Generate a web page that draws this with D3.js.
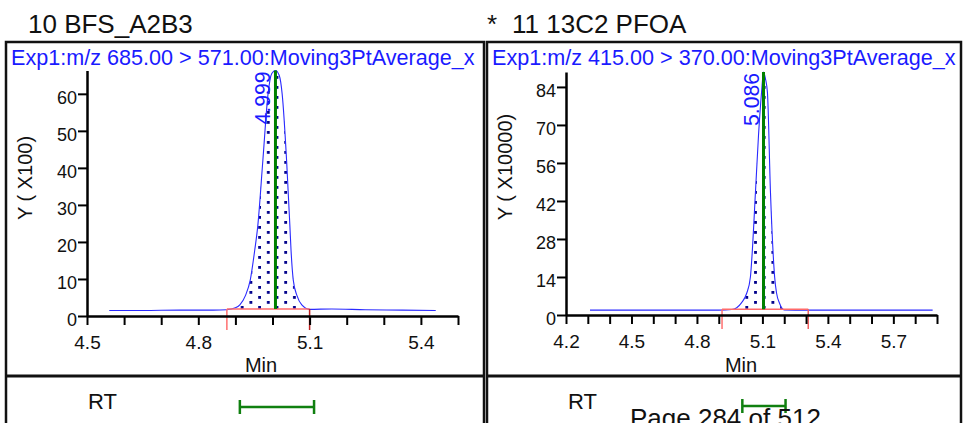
<!DOCTYPE html>
<html>
<head>
<meta charset="utf-8">
<script src="https://cdn.jsdelivr.net/npm/d3@7"></script>
<style>
body { margin: 0; background: #fff; }
text { font-family: "Liberation Sans", Arial, sans-serif; }
</style>
</head>
<body>
<div id="chart"></div>
<script>
// Data
const left_title = '10 BFS_A2B3';
const left_header = 'Exp1:m/z 685.00 > 571.00:Moving3PtAverage_x';
const left_y_title = 'Y ( X100)';
const left_times = [4.56, 4.65, 4.75, 4.84, 4.877, 4.90, 4.912, 4.927, 4.940, 4.952, 4.960, 4.974, 4.988, 4.998,
    5.008, 5.018, 5.026, 5.038, 5.047, 5.050, 5.056, 5.066, 5.079, 5.10, 5.16, 5.25, 5.35, 5.44];
const left_values = [1.5, 1.5, 1.6, 1.6, 1.7, 2.2, 3.0, 5.5, 9.7, 17.7, 24, 42, 60, 65.5,
    66.3, 65, 60, 42, 24, 17.7, 9.7, 5.5, 3.0, 1.8, 1.9, 1.7, 1.6, 1.5];
const left_peak = { time: 5.008, label: '4.999' };
const left_integration = [4.877, 5.10, 1.9];   // start, end, baseline
const left_rt_window = [4.912, 5.112];
const left_x_ticks = [4.5, 4.6, 4.7, 4.8, 4.9, 5.0, 5.1, 5.2, 5.3, 5.4, 5.5];
const left_x_labels = ['4.5', '4.8', '5.1', '5.4'];
const left_y_ticks = [0, 10, 20, 30, 40, 50, 60];

const right_title = '11 13C2 PFOA';
const right_header = 'Exp1:m/z 415.00 > 370.00:Moving3PtAverage_x';
const right_y_title = 'Y ( X10000)';
const right_times = [4.31, 4.50, 4.70, 4.90, 4.96, 5.003, 5.028, 5.045, 5.052, 5.068, 5.082, 5.096, 5.105,
    5.114, 5.123, 5.137, 5.150, 5.156, 5.165, 5.178, 5.20, 5.30, 5.50, 5.70, 5.88];
const right_values = [1.8, 1.8, 1.8, 1.8, 2.0, 4.4, 8, 14, 21.4, 45, 66, 82, 89.5,
    87, 82, 45, 21.4, 14, 8, 4.4, 1.9, 1.8, 1.8, 1.8, 1.8];
const right_peak = { time: 5.105, label: '5.086' };
const right_integration = [4.915, 5.31, 2.1];
const right_rt_window = [5.008, 5.206];
const right_x_ticks = [4.2, 4.3, 4.4, 4.5, 4.6, 4.7, 4.8, 4.9, 5.0, 5.1, 5.2, 5.3, 5.4, 5.5, 5.6, 5.7, 5.8, 5.9];
const right_x_labels = ['4.2', '4.5', '4.8', '5.1', '5.4', '5.7'];
const right_y_ticks = [0, 14, 28, 42, 56, 70, 84];

const page_label = 'Page 284 of 512';

const width = 965;
const height = 423;

const svg = d3.select('#chart')
    .append('svg')
    .attr('width', width)
    .attr('height', height);

// Dotted fill for the integrated peak
const defs = svg.append('defs');
const pattern = defs.append('pattern')
    .attr('id', 'dots')
    .attr('patternUnits', 'userSpaceOnUse')
    .attr('width', 17.4)
    .attr('height', 10);
pattern.append('rect').attr('x', 5.9).attr('y', 1).attr('width', 2.8).attr('height', 2.8).attr('fill', '#00008b');
pattern.append('rect').attr('x', 14.6).attr('y', 6).attr('width', 2.8).attr('height', 2.8).attr('fill', '#00008b');

const panels = [
    {
        id: 'l', frame: [6, 42, 484], title: left_title, titleX: 28, star: false,
        header: left_header, yTitle: left_y_title, yTitleX: 32, yTitleY: 178,
        times: left_times, values: left_values, peak: left_peak, integration: left_integration,
        rt: left_rt_window, xTicks: left_x_ticks, xLabels: left_x_labels, yTicks: left_y_ticks,
        plot: [87, 458, 70.5, 316], endColor: '#c02020', minX: 261
    },
    {
        id: 'r', frame: [487, 42, 961], title: right_title, titleX: 512, star: true,
        header: right_header, yTitle: right_y_title, yTitleX: 512, yTitleY: 167,
        times: right_times, values: right_values, peak: right_peak, integration: right_integration,
        rt: right_rt_window, xTicks: right_x_ticks, xLabels: right_x_labels, yTicks: right_y_ticks,
        plot: [566, 937, 72, 315], endColor: '#f06060', minX: 741
    }
];

panels.forEach(p => {
    const [left, right, top, bottom] = p.plot;

    const x_scale = d3.scaleLinear().domain(d3.extent(p.xTicks)).range([left, right]);
    const y_scale = d3.scaleLinear().domain([0, d3.max(p.values)]).range([bottom, top]);

    const clip = defs.append('clipPath').attr('id', 'clip-' + p.id);
    clip.append('rect')
        .attr('x', p.frame[0]).attr('y', p.frame[1])
        .attr('width', p.frame[2] - p.frame[0]).attr('height', height - p.frame[1]);

    // Titles above the frame
    svg.append('text')
        .attr('x', p.titleX).attr('y', 33)
        .attr('font-size', 26).attr('fill', '#111')
        .text(p.title);
    if (p.star) {
        svg.append('text')
            .attr('x', 487).attr('y', 33)
            .attr('font-size', 26).attr('fill', '#111')
            .text('*');
    }

    const g = svg.append('g').attr('clip-path', 'url(#clip-' + p.id + ')');

    // Header
    g.append('text')
        .attr('x', p.frame[0] + 5).attr('y', 65)
        .attr('font-size', 21.6).attr('fill', '#1a1aff')
        .text(p.header);

    const points = p.times.map((t, i) => [t, p.values[i]]);
    const [int_start, int_end, int_base] = p.integration;

    // Integrated area
    const int_clip = defs.append('clipPath').attr('id', 'int-' + p.id);
    int_clip.append('rect')
        .attr('x', x_scale(int_start)).attr('y', top - 5)
        .attr('width', x_scale(int_end) - x_scale(int_start))
        .attr('height', y_scale(int_base) - top + 5);

    const area = d3.area()
        .curve(d3.curveMonotoneX)
        .x(d => x_scale(d[0]))
        .y0(y_scale(int_base))
        .y1(d => y_scale(d[1]));

    g.append('path')
        .datum(points)
        .attr('clip-path', 'url(#int-' + p.id + ')')
        .attr('d', area)
        .attr('fill', 'url(#dots)');

    // Trace
    const line = d3.line()
        .curve(d3.curveMonotoneX)
        .x(d => x_scale(d[0]))
        .y(d => y_scale(d[1]));

    g.append('path')
        .datum(points)
        .attr('d', line)
        .attr('fill', 'none')
        .attr('stroke', '#2a2aff')
        .attr('stroke-width', 1.1);

    // Integration baseline and bounds
    g.append('line')
        .attr('x1', x_scale(int_start)).attr('x2', x_scale(int_end))
        .attr('y1', y_scale(int_base)).attr('y2', y_scale(int_base))
        .attr('stroke', '#ff6a6a').attr('stroke-width', 1.5);
    g.append('line')
        .attr('x1', x_scale(int_start)).attr('x2', x_scale(int_start))
        .attr('y1', y_scale(int_base)).attr('y2', bottom + 14)
        .attr('stroke', '#ff7070').attr('stroke-width', 1.5);
    g.append('line')
        .attr('x1', x_scale(int_end)).attr('x2', x_scale(int_end))
        .attr('y1', y_scale(int_base)).attr('y2', bottom + 14)
        .attr('stroke', p.endColor).attr('stroke-width', 1.5);

    // Apex line
    const apex_value = p.values[p.times.indexOf(p.peak.time)];
    g.append('line')
        .attr('x1', x_scale(p.peak.time)).attr('x2', x_scale(p.peak.time))
        .attr('y1', y_scale(apex_value)).attr('y2', y_scale(int_base))
        .attr('stroke', '#008000').attr('stroke-width', 3);

    g.append('text')
        .attr('transform', `translate(${x_scale(p.peak.time) - 5},${y_scale(apex_value) + 1}) rotate(-90)`)
        .attr('text-anchor', 'end')
        .attr('font-size', 22)
        .attr('textLength', 53)
        .attr('lengthAdjust', 'spacingAndGlyphs')
        .attr('fill', '#1a1aff')
        .text(p.peak.label);

    // Axes
    const y_axis = d3.axisLeft(y_scale)
        .tickValues(p.yTicks)
        .tickSize(9)
        .tickSizeOuter(0)
        .tickPadding(1);
    const yg = g.append('g').attr('transform', `translate(${left},0)`).call(y_axis);
    yg.select('.domain').attr('stroke-width', 2.5);
    yg.selectAll('.tick line').attr('stroke-width', 2);
    yg.selectAll('.tick text')
        .attr('font-size', 18).attr('dy', '0.55em').attr('fill', '#111')
        .style('font-family', '"Liberation Sans", Arial, sans-serif');

    const x_axis = d3.axisBottom(x_scale)
        .tickValues(p.xTicks)
        .tickSize(9)
        .tickSizeOuter(0)
        .tickPadding(11)
        .tickFormat(d => p.xLabels.includes(d.toFixed(1)) ? d.toFixed(1) : '');
    const xg = g.append('g').attr('transform', `translate(0,${bottom})`).call(x_axis);
    xg.select('.domain').attr('stroke-width', 2.5);
    xg.selectAll('.tick line').attr('stroke-width', 2);
    xg.selectAll('.tick text')
        .attr('font-size', 19).attr('fill', '#111')
        .style('font-family', '"Liberation Sans", Arial, sans-serif');

    g.append('text')
        .attr('x', p.minX).attr('y', 372)
        .attr('text-anchor', 'middle')
        .attr('font-size', 20).attr('fill', '#111')
        .text('Min');

    g.append('text')
        .attr('transform', `translate(${p.yTitleX},${p.yTitleY}) rotate(-90)`)
        .attr('text-anchor', 'middle')
        .attr('font-size', 20).attr('fill', '#111')
        .text(p.yTitle);

    // RT row
    g.append('text')
        .attr('x', p.frame[0] + (p.id === 'l' ? 82 : 81)).attr('y', 409)
        .attr('font-size', 22).attr('fill', '#111')
        .text('RT');

    const rt_y = p.id === 'l' ? 407 : 406;
    g.append('line')
        .attr('x1', x_scale(p.rt[0])).attr('x2', x_scale(p.rt[1]))
        .attr('y1', rt_y).attr('y2', rt_y)
        .attr('stroke', '#108010').attr('stroke-width', 2.5);
    p.rt.forEach(t => {
        g.append('line')
            .attr('x1', x_scale(t)).attr('x2', x_scale(t))
            .attr('y1', rt_y - 7).attr('y2', rt_y + 7)
            .attr('stroke', '#108010').attr('stroke-width', 2.5);
    });

    // Frame
    svg.append('rect')
        .attr('x', p.frame[0]).attr('y', p.frame[1])
        .attr('width', p.frame[2] - p.frame[0]).attr('height', height)
        .attr('fill', 'none').attr('stroke', '#111').attr('stroke-width', 2.5);
    svg.append('line')
        .attr('x1', p.frame[0]).attr('x2', p.frame[2])
        .attr('y1', 376).attr('y2', 376)
        .attr('stroke', '#111').attr('stroke-width', 3);
});

svg.append('text')
    .attr('x', 630).attr('y', 427)
    .attr('font-size', 26).attr('fill', '#111')
    .text(page_label);
</script>
</body>
</html>
